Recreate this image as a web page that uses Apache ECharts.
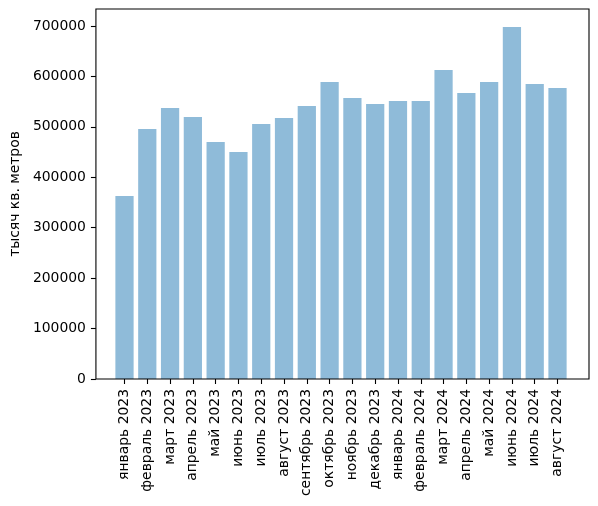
<!DOCTYPE html>
<html><head><meta charset="utf-8">
<script src="https://cdn.jsdelivr.net/npm/echarts@6/dist/echarts.min.js"></script>
<style>html,body{margin:0;padding:0;background:#fff}#c{width:598px;height:506px}</style>
</head><body><div id="c"></div>
<script>
const categories = ['январь 2023','февраль 2023','март 2023','апрель 2023','май 2023','июнь 2023','июль 2023','август 2023','сентябрь 2023','октябрь 2023','ноябрь 2023','декабрь 2023','январь 2024','февраль 2024','март 2024','апрель 2024','май 2024','июнь 2024','июль 2024','август 2024'];
const values = [363000,495700,537400,519500,470000,450100,505600,517500,541300,588900,557200,545300,551300,551300,612700,567100,588900,698000,585000,577000];
const yTicks = [0,100000,200000,300000,400000,500000,600000,700000];
const yName = 'тысяч кв. метров';

const F = 'DejaVu Sans';
const FS = 13.9;
const yMax = 733700;
const chart = echarts.init(document.getElementById('c'), null, {renderer:'canvas'});
chart.setOption({
  animation:false,
  backgroundColor:'#fff',
  textStyle:{fontFamily:F},
  grid:[
    {left:93, right:9, top:9, bottom:127, show:true, borderColor:'#000', borderWidth:1.1, backgroundColor:'transparent', z:5},
    {left:113.1, width:455.8, top:9, bottom:127}
  ],
  xAxis:[
    {gridIndex:0, type:'value', min:0, max:1, show:false},
    {gridIndex:1, type:'category', data:categories,
     axisLine:{show:false},
     axisTick:{show:true, alignWithLabel:true, length:5, lineStyle:{color:'#000', width:1.1}},
     axisLabel:{rotate:90, margin:10, color:'#000', fontSize:FS, fontFamily:F, interval:0}}
  ],
  yAxis:[
    {gridIndex:0, type:'value', min:0, max:yMax,
     name:yName, nameLocation:'middle', nameGap:69,
     nameTextStyle:{color:'#000', fontSize:FS, fontFamily:F},
     axisLine:{show:false},
     axisTick:{show:true, length:5, customValues:yTicks, lineStyle:{color:'#000', width:1.1}},
     axisLabel:{color:'#000', fontSize:FS, fontFamily:F, margin:10, customValues:yTicks,
       formatter:function(v){return String(v);}},
     splitLine:{show:false}},
    {gridIndex:1, type:'value', min:0, max:yMax, show:false, splitLine:{show:false}}
  ],
  series:[{
    type:'bar', xAxisIndex:1, yAxisIndex:1, data:values,
    barCategoryGap:'20%',
    itemStyle:{color:'rgba(31,119,180,0.5)'}
  }]
});
</script></body></html>
